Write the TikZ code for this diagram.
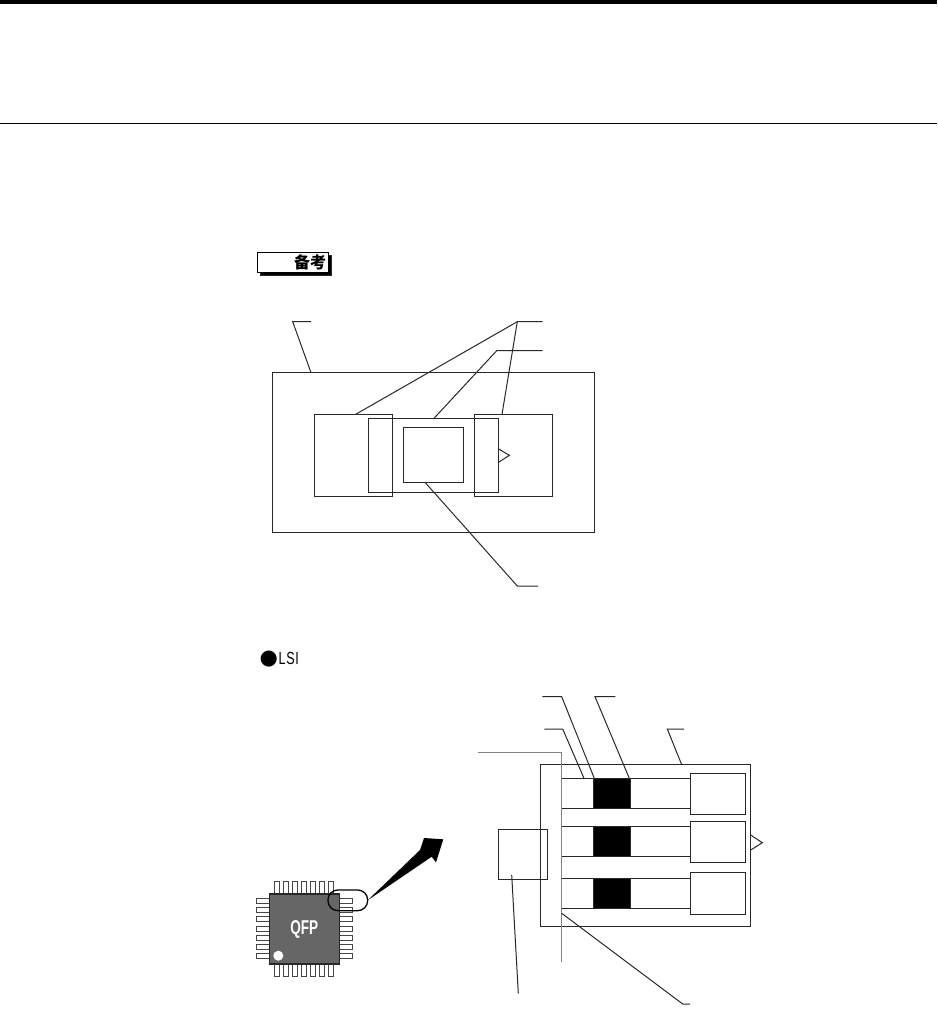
\documentclass[tikz,border=0pt]{standalone}
\usepackage{fontspec}
\setmainfont{Liberation Sans}
\newfontfamily\cjkfont{Noto Sans CJK SC}
\newfontfamily\markfont{DejaVu Sans}
\usetikzlibrary{positioning}
\tikzset{
    partbox/.style={shape=rectangle,draw=partline,line width=1.1pt,inner sep=0pt,outer sep=0pt},
    darkbox/.style={partbox,fill=black},
    pinbox/.style={partbox,fill=white,draw=pinline,line width=0.9pt},
    leader/.style={draw=partline,line width=1pt},
}

\begin{document}
\begin{tikzpicture}[x=1pt,y=-1pt]
    \definecolor{partline}{RGB}{40,40,40}
    \definecolor{pinline}{RGB}{70,70,70}
    \definecolor{railline}{RGB}{130,130,130}
    \definecolor{qfpbody}{RGB}{102,102,102}
    \useasboundingbox (0,0) rectangle (937,1028);

    % page head
    \node[shape=rectangle,fill=black,inner sep=0pt,minimum width=937pt,minimum height=4pt] (headbar) at (468.5,2) {};
    \node[shape=rectangle,fill=black,inner sep=0pt,minimum width=937pt,minimum height=1pt] (headrule) at (468.5,123.5) {};

    % tag
    \node[darkbox,minimum width=71.4pt,minimum height=19.6pt] (tagshadow) at (296,265.6) {};
    \node[partbox,draw=black,line width=1.2pt,fill=white,minimum width=71.4pt,minimum height=19.6pt,text width=66pt,align=right] (tag) at (293,262.5) {\cjkfont\bfseries\fontsize{16}{16}\selectfont 备考};

    % upper drawing
    \node[partbox,minimum width=322pt,minimum height=159.6pt]  (board) at (433.3,452.5) {};
    \node[partbox,minimum width=78.3pt,minimum height=82.4pt]  (padl) at (353.2,455.5) {};
    \node[partbox,minimum width=78.3pt,minimum height=82.4pt]  (padr) at (513.5,455.5) {};
    \node[partbox,minimum width=130.4pt,minimum height=74.4pt] (chip) at (433.5,455.5) {};
    \node[partbox,minimum width=60pt,minimum height=54.6pt]    (core) at (433.3,455) {};
    \coordinate (marka) at (498.7,449);
    \coordinate (markb) at (509.3,455.3);
    \coordinate (markc) at (498.7,462.3);
    \draw[leader] (marka) -- (markb) -- (markc);

    \coordinate (boardend) at (311,321.7);
    \coordinate (boardkink) at (292.7,321.7);
    \coordinate (boardtip) at (311,372.7);
    \draw[leader] (boardend) -- (boardkink) -- (boardtip);
    \coordinate (padend) at (542.7,321.7);
    \coordinate (padkink) at (517.3,321.7);
    \coordinate (padltip) at (355.7,414.3);
    \coordinate (padrtip) at (502,414.3);
    \draw[leader] (padend) -- (padkink) -- (padltip);
    \draw[leader] (padkink) -- (padrtip);
    \coordinate (chipend) at (542.7,350.7);
    \coordinate (chipkink) at (496.7,350.7);
    \coordinate (chiptip) at (434,418.3);
    \draw[leader] (chipend) -- (chipkink) -- (chiptip);
    \coordinate (coreend) at (538,586);
    \coordinate (corekink) at (517.3,586);
    \coordinate (coretip) at (425,482.3);
    \draw[leader] (coreend) -- (corekink) -- (coretip);

    % heading of lower drawing
    \node[anchor=base west,inner sep=0pt] (lsihead) at (259.5,664.5) {{\markfont\fontsize{21}{21}\selectfont ●}\kern0.5pt\fontsize{17.5}{17.5}\selectfont\scalebox{0.72}[1]{L\kern1pt S\kern1pt I}};

    % package
    \foreach \i in {0,...,6} {
        \node[pinbox,minimum width=5pt,minimum height=13pt]   (pint\i) at (276.7+9.1*\i,887.5) {};
        \node[pinbox,minimum width=5pt,minimum height=13pt]   (pinb\i) at (276.7+9.1*\i,970.3) {};
        \node[pinbox,minimum width=12.7pt,minimum height=5pt] (pinl\i) at (263,900.7+9.27*\i) {};
        \node[pinbox,minimum width=13.4pt,minimum height=5pt] (pinr\i) at (346,900.7+9.27*\i) {};
    }
    \node[partbox,fill=qfpbody,text=white,font=\bfseries\fontsize{20}{20}\selectfont,minimum width=70pt,minimum height=70pt] (qfp) at (304.3,929) {\scalebox{0.68}[1]{QFP}};
    \node[shape=circle,fill=white,inner sep=0pt,minimum size=10pt] (qfpdot) at (278.3,955.7) {};
    \node[partbox,draw=black,line width=1.3pt,rounded corners=10pt,minimum width=39.7pt,minimum height=20.7pt] (oval) at (347.8,900.3) {};
    \coordinate (arrowtop) at (420,850);
    \coordinate (arrowbarba) at (424,838);
    \coordinate (arrowtip) at (443.3,839.3);
    \coordinate (arrowbarbb) at (436,862.3);
    \coordinate (arrowlow) at (431.7,856.7);
    \fill[black] (oval.east) -- (arrowtop) -- (arrowbarba) -- (arrowtip) -- (arrowbarbb) -- (arrowlow) -- cycle;

    % lower drawing
    \node[partbox,minimum width=210.2pt,minimum height=162pt] (frame) at (645.6,845.7) {};
    \node[partbox,minimum width=49.4pt,minimum height=50.4pt] (gate) at (523,854.5) {};
    \node[partbox,minimum width=128.6pt,minimum height=29.7pt] (stripa) at (626,793.2) {};
    \node[partbox,minimum width=128.6pt,minimum height=30pt]   (stripb) at (626,841.3) {};
    \node[partbox,minimum width=128.6pt,minimum height=30.3pt] (stripc) at (626,893.2) {};
    \node[darkbox,minimum width=36.6pt,minimum height=29.7pt]  (blacka) at (612,793.2) {};
    \node[darkbox,minimum width=36.6pt,minimum height=30pt]    (blackb) at (612,841.3) {};
    \node[darkbox,minimum width=36.6pt,minimum height=30.3pt]  (blackc) at (612,893.2) {};
    \node[partbox,minimum width=54.7pt,minimum height=41.7pt]  (conta) at (717.7,793.9) {};
    \node[partbox,minimum width=54.7pt,minimum height=41.4pt]  (contb) at (717.7,842) {};
    \node[partbox,minimum width=54.7pt,minimum height=42pt]    (contc) at (717.7,893.7) {};
    \coordinate (framea) at (750.7,835);
    \coordinate (frameb) at (762.3,842.7);
    \coordinate (framec) at (750.7,850);
    \draw[leader] (framea) -- (frameb) -- (framec);

    \coordinate (railend) at (478.3,752.7);
    \coordinate (railtop) at (561.7,752.7);
    \coordinate (railbot) at (561.7,961.7);
    \draw[draw=railline,line width=1.2pt] (railend) -- (railtop) -- (railbot);

    \coordinate (leada) at (542.3,696.7);
    \coordinate (kinka) at (561.7,696.7);
    \coordinate (tipa) at (594.3,778.3);
    \draw[leader] (leada) -- (kinka) -- (tipa);
    \coordinate (leadb) at (615.3,696.7);
    \coordinate (kinkb) at (595,696.7);
    \coordinate (tipb) at (629.3,778.3);
    \draw[leader] (leadb) -- (kinkb) -- (tipb);
    \coordinate (leadc) at (544.3,729);
    \coordinate (kinkc) at (562.7,729);
    \coordinate (tipc) at (584,778.3);
    \draw[leader] (leadc) -- (kinkc) -- (tipc);
    \coordinate (leadd) at (684,729);
    \coordinate (kinkd) at (667.3,729);
    \coordinate (tipd) at (681.7,764.7);
    \draw[leader] (leadd) -- (kinkd) -- (tipd);
    \coordinate (gatetip) at (511.7,875);
    \coordinate (gateend) at (518.3,993.3);
    \draw[leader] (gatetip) -- (gateend);
    \coordinate (railtip) at (561.7,913.3);
    \coordinate (railkink) at (682.7,1004);
    \coordinate (railfree) at (690,1004);
    \draw[leader] (railtip) -- (railkink) -- (railfree);
\end{tikzpicture}
\end{document}
